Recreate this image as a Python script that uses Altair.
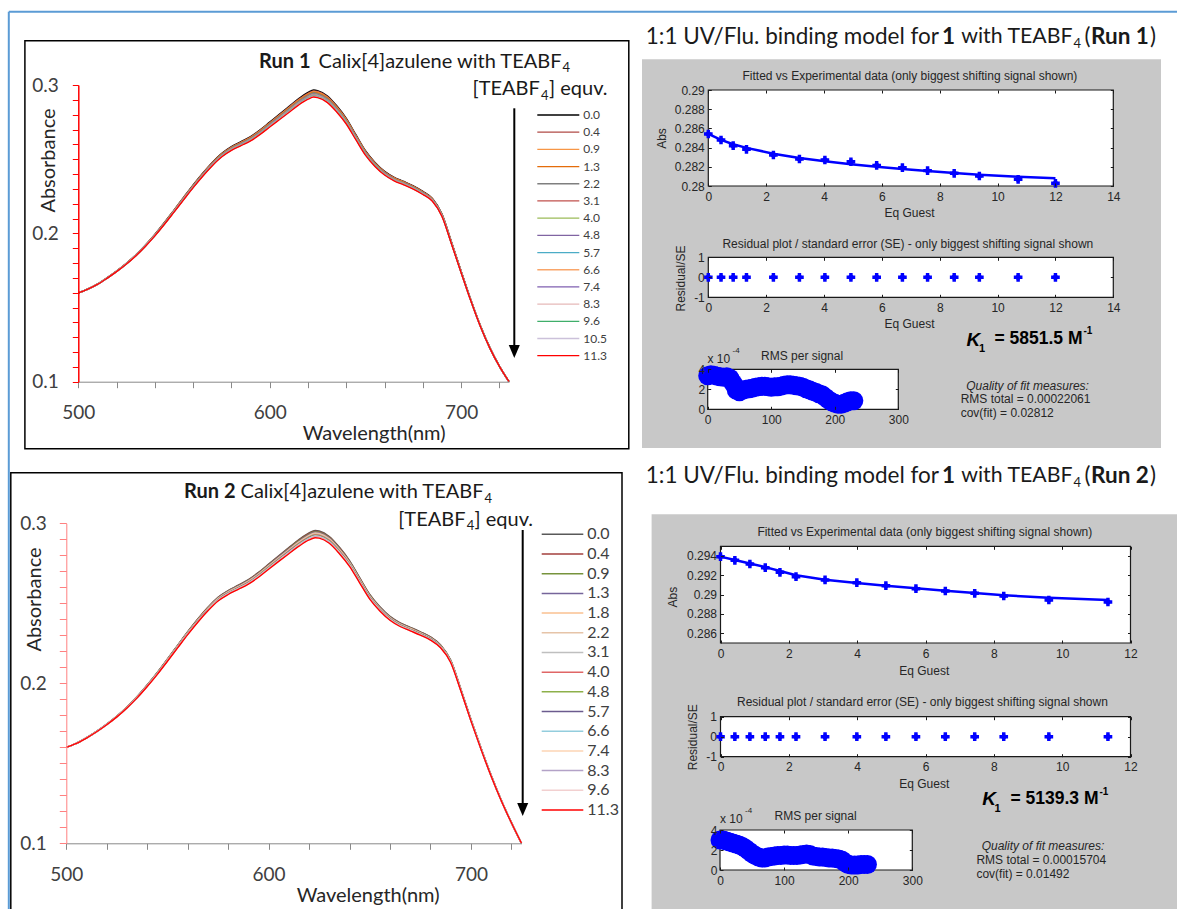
import altair as alt
import pandas as pd

W, H = 1177, 909
XL = "Lato"
ML = "Liberation Sans"
BLUE = "#0000ff"
MTXT = "#262626"

# ---------------- spectra ----------------
wl = [500, 505, 510, 515, 520, 525, 530, 535, 540, 545, 550, 555, 560, 565, 570, 575,
      580, 585, 590, 595, 600, 605, 610, 615, 620, 623, 625, 630, 635, 640, 645, 650,
      655, 660, 665, 670, 675, 680, 685, 690, 695, 700, 705, 710, 715, 720, 725]

# Run 1: top curve (0.0 equiv) and band width down to the last curve (11.3 equiv)
r1_top = [0.1598, 0.1625, 0.1658, 0.1700, 0.1746, 0.1797, 0.1854, 0.1920, 0.1993, 0.2073,
          0.2157, 0.2242, 0.2326, 0.2405, 0.2478, 0.2540, 0.2585, 0.2618, 0.2652, 0.2698,
          0.2750, 0.2802, 0.2855, 0.2907, 0.2950, 0.2966, 0.2962, 0.2928, 0.2860, 0.2775,
          0.2665, 0.2557, 0.2478, 0.2418, 0.2378, 0.2350, 0.2320, 0.2283, 0.2235, 0.2130,
          0.1940, 0.1745, 0.1555, 0.1380, 0.1230, 0.1105, 0.1000]
r1_band = [0, 0.0001, 0.0002, 0.0003, 0.0004, 0.0005, 0.0006, 0.0008, 0.0010, 0.0012,
           0.0014, 0.0016, 0.0018, 0.0020, 0.0022, 0.0024, 0.0026, 0.0027, 0.0029, 0.0031,
           0.0033, 0.0036, 0.0040, 0.0043, 0.0046, 0.0047, 0.0047, 0.0045, 0.0042, 0.0038,
           0.0034, 0.0030, 0.0027, 0.0025, 0.0024, 0.0023, 0.0022, 0.0021, 0.0019, 0.0016,
           0.0013, 0.0010, 0.0008, 0.0006, 0.0004, 0.0002, 0]
# Run 2
r2_top = [0.1600, 0.1625, 0.1660, 0.1700, 0.1745, 0.1795, 0.1852, 0.1917, 0.1990, 0.2068,
          0.2152, 0.2237, 0.2322, 0.2402, 0.2475, 0.2538, 0.2580, 0.2613, 0.2648, 0.2693,
          0.2745, 0.2797, 0.2848, 0.2898, 0.2940, 0.2955, 0.2952, 0.2918, 0.2850, 0.2767,
          0.2660, 0.2555, 0.2478, 0.2418, 0.2378, 0.2350, 0.2322, 0.2290, 0.2240, 0.2145,
          0.1965, 0.1775, 0.1595, 0.1425, 0.1270, 0.1130, 0.1000]
r2_band = [0, 0.0001, 0.0002, 0.0003, 0.0004, 0.0005, 0.0006, 0.0008, 0.0010, 0.0012,
           0.0014, 0.0016, 0.0018, 0.0020, 0.0022, 0.0024, 0.0025, 0.0026, 0.0028, 0.0030,
           0.0032, 0.0035, 0.0038, 0.0041, 0.0044, 0.0045, 0.0045, 0.0043, 0.0040, 0.0036,
           0.0032, 0.0029, 0.0026, 0.0024, 0.0023, 0.0022, 0.0021, 0.0020, 0.0018, 0.0015,
           0.0012, 0.0010, 0.0008, 0.0006, 0.0004, 0.0002, 0]

r1_labels = ["0.0", "0.4", "0.9", "1.3", "2.2", "3.1", "4.0", "4.8", "5.7", "6.6",
             "7.4", "8.3", "9.6", "10.5", "11.3"]
r1_colors = ["#000000", "#b04a46", "#f79646", "#e46c0a", "#7f7f7f", "#c0504d", "#9bbb59",
             "#8064a2", "#4bacc6", "#f9a66a", "#7f5fb0", "#e6b9b8", "#3fae6a", "#ccc1da",
             "#ff0000"]
r2_labels = ["0.0", "0.4", "0.9", "1.3", "1.8", "2.2", "3.1", "4.0", "4.8", "5.7",
             "6.6", "7.4", "8.3", "9.6", "11.3"]
r2_colors = ["#595959", "#a33f3c", "#77933c", "#76659a", "#fac090", "#e6c4a8", "#bfbfbf",
             "#e06666", "#8db04a", "#6b5b8e", "#93cddd", "#fcd5b5", "#b3a2c7", "#f2d0d0",
             "#ff0000"]

# ---------------- binding fits ----------------
r1_eq = [0, 0.44, 0.86, 1.32, 2.25, 3.15, 4.03, 4.93, 5.82, 6.71, 7.58, 8.50, 9.37, 10.71, 12.0]
r1_abs = [0.28542, 0.28479, 0.28420, 0.28382, 0.28323, 0.28281, 0.28271, 0.28253, 0.28215,
          0.28191, 0.28160, 0.28132, 0.28104, 0.28069, 0.28028]
r1_fit = [0.28542, 0.28480, 0.28435, 0.28397, 0.28337, 0.28292, 0.28257, 0.28226, 0.28201,
          0.28177, 0.28156, 0.28135, 0.28118, 0.28097, 0.28080]
r1_res = [0] * 15

r2_eq = [0, 0.42, 0.86, 1.31, 1.74, 2.21, 3.06, 3.99, 4.84, 5.72, 6.58, 7.44, 8.29, 9.61, 11.34]
r2_abs = [0.29393, 0.29355, 0.29317, 0.29279, 0.29231, 0.29186, 0.29152, 0.29124, 0.29093,
          0.29062, 0.29038, 0.29014, 0.28986, 0.28945, 0.28924]
r2_fit = [0.29393, 0.29358, 0.29322, 0.29285, 0.29245, 0.29200, 0.29155, 0.29121, 0.29093,
          0.29066, 0.29041, 0.29017, 0.28993, 0.28969, 0.28945]
r2_res = [0] * 15

rms_x = list(range(0, 231, 5))
r1_rms = [3.35, 3.45, 3.4, 3.3, 3.25, 3.2, 3.25, 3.1, 2.6, 1.9, 1.75, 1.9, 2.0, 2.05, 2.1,
          2.2, 2.25, 2.3, 2.3, 2.25, 2.2, 2.25, 2.25, 2.3, 2.4, 2.45, 2.45, 2.4, 2.35, 2.3,
          2.2, 2.05, 1.95, 1.8, 1.7, 1.55, 1.45, 1.2, 0.95, 0.75, 0.6, 0.5, 0.5, 0.6, 0.75,
          0.85, 0.85]
r2_rms = [3.0, 3.0, 2.9, 2.8, 2.7, 2.6, 2.5, 2.35, 2.15, 1.9, 1.65, 1.45, 1.3, 1.2, 1.2,
          1.3, 1.35, 1.4, 1.45, 1.45, 1.5, 1.5, 1.45, 1.45, 1.45, 1.5, 1.55, 1.6, 1.55, 1.4,
          1.35, 1.3, 1.3, 1.25, 1.2, 1.2, 1.15, 1.1, 1.0, 0.75, 0.55, 0.5, 0.5, 0.5, 0.55,
          0.55, 0.55]

layers = []


# ---------------- helpers ----------------
def txt(s, x, y, size, font=XL, weight="normal", style="normal", align="left",
        color="#000000"):
    return alt.Chart(pd.DataFrame({"t": [s]})).mark_text(
        font=font, fontSize=size, fontWeight=weight, fontStyle=style, align=align,
        baseline="middle", color=color).encode(x=alt.value(x), y=alt.value(y), text="t:N")


def rect(x1, y1, x2, y2, fill="transparent", stroke=None, sw=1.0):
    kw = {"fill": fill}
    if stroke:
        kw["stroke"] = stroke
        kw["strokeWidth"] = sw
    return alt.Chart(pd.DataFrame({"a": [0]})).mark_rect(**kw).encode(
        x=alt.value(x1), x2=alt.value(x2), y=alt.value(y1), y2=alt.value(y2))


def hrule(x1, x2, y, color, sw):
    return alt.Chart(pd.DataFrame({"a": [0]})).mark_rule(color=color, strokeWidth=sw).encode(
        x=alt.value(x1), x2=alt.value(x2), y=alt.value(y))


def vrule(x, y1, y2, color, sw):
    return alt.Chart(pd.DataFrame({"a": [0]})).mark_rule(color=color, strokeWidth=sw).encode(
        x=alt.value(x), y=alt.value(y1), y2=alt.value(y2))


def arrow_head(x, y, size):
    return alt.Chart(pd.DataFrame({"a": [0]})).mark_point(
        shape="M-0.85,-1L0.85,-1L0,1Z", filled=True, size=size, color="#000000",
        opacity=1).encode(x=alt.value(x), y=alt.value(y))


def sc(dom, rng):
    return alt.Scale(domain=dom, range=rng, nice=False, zero=False)


def spectrum_panel(top, band, labels, colors, abs_pts, xr, yr, ycol, ylw, ytick, ypad,
                   xpad, xt_pos, yt_pos, leg_x, leg_y, leg_font, leg_sw):
    a0, an = abs_pts[0], abs_pts[-1]
    rows = []
    for k, lab in enumerate(labels):
        f = (a0 - abs_pts[k]) / (a0 - an)
        for w, t, b in zip(wl, top, band):
            rows.append({"wl": w, "A": t - f * b, "s": lab})
    df = pd.DataFrame(rows)
    cscale = alt.Scale(domain=labels, range=colors)
    xaxis = alt.Axis(
        orient="bottom", offset=yr[0] - H, values=list(range(500, 721, 20)),
        labelExpr="datum.value % 100 == 0 ? datum.label : ''", grid=False,
        domainColor="#898989", tickColor="#898989", tickSize=6, labelFont=XL,
        labelFontSize=19, labelColor="#404040", labelPadding=xpad, labelFlush=False,
        labelOverlap=False, title="Wavelength(nm)", titleX=xt_pos[0],
        titleY=xt_pos[1] - yr[0], titleFont=XL, titleFontSize=20,
        titleFontWeight="normal", titleColor="#262626", titleBaseline="middle",
        titleAlign="center", zindex=1)
    yaxis = alt.Axis(
        orient="left", offset=-xr[0], values=[round(0.1 + 0.01 * i, 2) for i in range(21)],
        labelExpr="abs(datum.value*10 - round(datum.value*10)) < 0.01 ? format(datum.value, '.1f') : ''",
        grid=False, domainColor=ycol, domainWidth=ylw, tickColor=ycol, tickSize=ytick,
        labelFont=XL, labelFontSize=19, labelColor="#404040", labelPadding=ypad,
        labelOverlap=False, title="Absorbance", titleX=yt_pos[0] - xr[0],
        titleY=yt_pos[1], titleFont=XL, titleFontSize=20, titleFontWeight="normal",
        titleColor="#262626", titleBaseline="middle", titleAlign="center", zindex=1)
    out = [alt.Chart(df).mark_line(strokeWidth=1.4, interpolate="monotone").encode(
        x=alt.X("wl:Q", scale=sc([500, 725], xr), axis=xaxis),
        y=alt.Y("A:Q", scale=sc([0.1, 0.3], yr), axis=yaxis),
        color=alt.Color("s:N", scale=cscale, legend=None))]
    leg = pd.DataFrame({"s": labels})
    ly = alt.Y("s:N", scale=alt.Scale(type="point", domain=labels, range=leg_y, padding=0),
               axis=None)
    out.append(alt.Chart(leg).mark_rule(strokeWidth=leg_sw).encode(
        x=alt.value(leg_x[0]), x2=alt.value(leg_x[1]), y=ly,
        color=alt.Color("s:N", scale=cscale, legend=None)))
    out.append(alt.Chart(leg).mark_text(align="left", baseline="middle", font=XL,
                                        fontSize=leg_font, color="#404040").encode(
        x=alt.value(leg_x[2]), y=ly, text="s:N"))
    return out


def matlab_plot(xr, yr, xdom, ydom, xticks, yticks, ylab_expr, xtitle=None, ytitle=None,
                xpad=5, ypad=4):
    out = [rect(xr[0], yr[1], xr[1], yr[0], fill="white", stroke="#1a1a1a", sw=1.2)]
    dummy = pd.DataFrame({"x": [xdom[0]], "y": [ydom[0]]})
    xs, ys = sc(xdom, xr), sc(ydom, yr)
    xkw = dict(orient="bottom", offset=yr[0] - H, values=xticks, ticks=False, domain=False,
               grid=False, labelFont=ML, labelFontSize=12, labelColor=MTXT,
               labelPadding=xpad, labelFlush=False, labelOverlap=False, zindex=1)
    if xtitle:
        xkw.update(title=xtitle[0], titleX=xtitle[1], titleY=xtitle[2] - yr[0], titleFont=ML,
                   titleFontSize=12, titleFontWeight="normal", titleColor=MTXT,
                   titleBaseline="middle", titleAlign="center")
    else:
        xkw["title"] = None
    ykw = dict(orient="left", offset=-xr[0], values=yticks, ticks=False, domain=False,
               grid=False, labelFont=ML, labelFontSize=12, labelColor=MTXT,
               labelPadding=ypad, labelOverlap=False, labelExpr=ylab_expr, zindex=1)
    if ytitle:
        ykw.update(title=ytitle[0], titleX=ytitle[1] - xr[0], titleY=ytitle[2], titleFont=ML,
                   titleFontSize=12, titleFontWeight="normal", titleColor=MTXT,
                   titleBaseline="middle", titleAlign="center")
    else:
        ykw["title"] = None
    out.append(alt.Chart(dummy).mark_point(opacity=0).encode(
        x=alt.X("x:Q", scale=xs, axis=alt.Axis(**xkw)),
        y=alt.Y("y:Q", scale=ys, axis=alt.Axis(**ykw))))
    tk = dict(labels=False, domain=False, ticks=True, tickSize=3, tickColor="#1a1a1a",
              tickWidth=1, grid=False, title=None, zindex=1)
    out.append(alt.Chart(dummy).mark_point(opacity=0).encode(
        x=alt.X("x:Q", scale=xs, axis=alt.Axis(orient="top", offset=-yr[0], values=xticks, **tk)),
        y=alt.Y("y:Q", scale=ys, axis=alt.Axis(orient="right", offset=xr[0] - W, values=yticks, **tk))))
    out.append(alt.Chart(dummy).mark_point(opacity=0).encode(
        x=alt.X("x:Q", scale=xs, axis=alt.Axis(orient="bottom", offset=yr[1] - H, values=xticks, **tk)),
        y=alt.Y("y:Q", scale=ys, axis=alt.Axis(orient="left", offset=-xr[1], values=yticks, **tk))))
    return out, xs, ys


def star_points(df, xf, yf, xs, ys):
    enc = dict(x=alt.X(f"{xf}:Q", scale=xs, axis=None), y=alt.Y(f"{yf}:Q", scale=ys, axis=None))
    return [alt.Chart(df).mark_point(shape="diamond", filled=True, size=55, color=BLUE,
                                     opacity=1).encode(**enc),
            alt.Chart(df).mark_point(shape="cross", filled=True, size=75, color=BLUE,
                                     opacity=1).encode(**enc)]


def fit_panel(eq, ab, fit, res, rms, P, txts):
    df = pd.DataFrame({"eq": eq, "abs": ab, "fit": fit, "res": res})
    out = []
    # fitted vs experimental
    o, xs, ys = matlab_plot(P["fx"], P["fy"], [0, P["xmax"]], P["ydom"],
                            list(range(0, P["xmax"] + 1, 2)), P["yticks"],
                            "format(datum.value, '.3~f')",
                            xtitle=("Eq Guest",) + P["fxt"], ytitle=("Abs",) + P["fyt"])
    out += o
    out.append(alt.Chart(df).mark_line(color=BLUE, strokeWidth=2.5).encode(
        x=alt.X("eq:Q", scale=xs, axis=None), y=alt.Y("fit:Q", scale=ys, axis=None)))
    out += star_points(df, "eq", "abs", xs, ys)
    # residual
    o, xs, ys = matlab_plot(P["fx"], P["ry"], [0, P["xmax"]], [-1, 1],
                            list(range(0, P["xmax"] + 1, 2)), [-1, 0, 1],
                            "datum.value < 0 ? '-' + format(-datum.value, 'd') : format(datum.value, 'd')",
                            xtitle=("Eq Guest",) + P["rxt"], ytitle=("Residual/SE",) + P["ryt"])
    out += o
    out += star_points(df, "eq", "res", xs, ys)
    # RMS per signal
    o, xs, ys = matlab_plot(P["mx"], P["my"], [0, 300], [0, 4], [0, 100, 200, 300], [0, 2, 4],
                            "format(datum.value, 'd')", ypad=3)
    out += o
    rdf = pd.DataFrame({"n": rms_x, "r": rms})
    out.append(alt.Chart(rdf).mark_circle(size=360, color=BLUE, opacity=1).encode(
        x=alt.X("n:Q", scale=xs, axis=None), y=alt.Y("r:Q", scale=ys, axis=None)))
    for t in txts:
        out.append(txt(*t[:4], **t[4]))
    return out


# ---------------- decorations ----------------
layers.append(hrule(8.8, W, 11.7, "#5b9bd5", 2))
layers.append(vrule(8.8, 11.7, H, "#5b9bd5", 2))
layers.append(rect(24.9, 40.7, 628.8, 448.7, stroke="#000000", sw=1.5))
layers.append(rect(10.8, 472.7, 622, 920, stroke="#000000", sw=1.5))
layers.append(rect(642, 59.3, 1161, 448, fill="#c8c8c8"))
layers.append(rect(651.6, 514.3, 1180, 912, fill="#c8c8c8"))

# ---------------- left panels ----------------
layers += spectrum_panel(r1_top, r1_band, r1_labels, r1_colors, r1_abs,
                         xr=[78.3, 509.0], yr=[381.7, 85.0], ycol="#ff0000", ylw=1.5,
                         ytick=6, ypad=14, xpad=16, xt_pos=(373.6, 433), yt_pos=(48.2, 160),
                         leg_x=[537.3, 579.3, 583.3], leg_y=[115, 355.7], leg_font=12,
                         leg_sw=1.3)
layers += spectrum_panel(r2_top, r2_band, r2_labels, r2_colors, r2_abs,
                         xr=[66.3, 521.5], yr=[843.3, 523.3], ycol="#ff8080", ylw=1,
                         ytick=7, ypad=13, xpad=16, xt_pos=(367.6, 895), yt_pos=(34.1, 599),
                         leg_x=[541.7, 583.3, 587.3], leg_y=[534.3, 810], leg_font=16,
                         leg_sw=1.5)

for s, x, y, sz, w, al in [("Run 1", 259, 61.7, 20, "bold", "left"),
                           ("Calix[4]azulene with TEABF", 561.5, 61.7, 20, "normal", "right"),
                           ("4", 562.5, 68, 13, "normal", "left"),
                           ("[TEABF", 539.8, 89.3, 20, "normal", "right"),
                           ("4", 541, 95.5, 13, "normal", "left"),
                           ("] equv.", 549, 89.3, 20, "normal", "left"),
                           ("Run 2", 184, 492.3, 20, "bold", "left"),
                           ("Calix[4]azulene with TEABF", 483.5, 492.3, 20, "normal", "right"),
                           ("4", 484.5, 498.5, 13, "normal", "left"),
                           ("[TEABF", 465.5, 520, 20, "normal", "right"),
                           ("4", 466.7, 526, 13, "normal", "left"),
                           ("] equv.", 474.5, 520, 20, "normal", "left")]:
    layers.append(txt(s, x, y, sz, weight=w, align=al, color="#1a1a1a"))

layers.append(vrule(514.3, 108.3, 347, "#000000", 2))
layers.append(arrow_head(514.3, 351.6, 169))
layers.append(vrule(522.7, 530, 805, "#000000", 2))
layers.append(arrow_head(522.7, 809.5, 169))

# ---------------- right panels ----------------
for yb, run in [(36.7, "Run 1"), (476, "Run 2")]:
    layers.append(txt("1:1 UV/Flu. binding model for", 645.7, yb, 22.5, color="#1a1a1a"))
    layers.append(txt("1", 942, yb, 22.5, weight="bold", color="#1a1a1a"))
    layers.append(txt("with TEABF", 1072.5, yb, 21.3, align="right", color="#1a1a1a"))
    layers.append(txt("4", 1073.5, yb + 7, 13, color="#1a1a1a"))
    layers.append(txt("(", 1084.5, yb, 22.5, color="#1a1a1a"))
    layers.append(txt(run, 1091, yb, 22.5, weight="bold", color="#1a1a1a"))
    layers.append(txt(")", 1150, yb, 22.5, color="#1a1a1a"))

P1 = dict(fx=[708.3, 1113.3], fy=[186, 90], xmax=14, ydom=[0.28, 0.29],
          yticks=[0.28, 0.282, 0.284, 0.286, 0.288, 0.29],
          fxt=(909, 212), fyt=(661.4, 138), ry=[297.3, 257.3], rxt=(909, 323.3),
          ryt=(680.6, 278), mx=[707.7, 898.3], my=[409.3, 369.3])
T1 = [("Fitted vs Experimental data (only biggest shifting signal shown)", 909.9, 76, 12,
       dict(font=ML, align="center", color=MTXT)),
      ("Residual plot / standard error (SE) - only biggest shifting signal shown", 907.8, 244.3,
       12, dict(font=ML, align="center", color=MTXT)),
      ("RMS per signal", 802.1, 356, 12, dict(font=ML, align="center", color=MTXT)),
      ("x 10", 707.4, 359.3, 12, dict(font=ML, color=MTXT)),
      ("-4", 732.5, 350.5, 8, dict(font=ML, color=MTXT)),
      ("K", 966.6, 340, 19, dict(font=ML, weight="bold", style="italic", color="#000000")),
      ("1", 979, 349, 11, dict(font=ML, weight="bold", color="#000000")),
      ("= 5851.5 M", 1082.5, 339.3, 17.5, dict(font=ML, weight="bold", align="right",
                                               color="#000000")),
      ("-1", 1083.5, 331, 10, dict(font=ML, weight="bold", color="#000000")),
      ("Quality of fit measures:", 1027.6, 386, 12, dict(font=ML, style="italic",
                                                          align="center", color=MTXT)),
      ("RMS total = 0.00022061", 960.7, 399.3, 12, dict(font=ML, color=MTXT)),
      ("cov(fit) = 0.02812", 960.7, 413.3, 12, dict(font=ML, color=MTXT))]
layers += fit_panel(r1_eq, r1_abs, r1_fit, r1_res, r1_rms, P1, T1)

P2 = dict(fx=[720.5, 1130.5], fy=[643, 546.3], xmax=12, ydom=[0.285, 0.295],
          yticks=[0.286, 0.288, 0.29, 0.292, 0.294],
          fxt=(923.7, 670), fyt=(672.5, 596.7), ry=[756.7, 716.7], rxt=(923.7, 783.3),
          ryt=(692.8, 736.7), mx=[720, 912.3], my=[870, 830])
T2 = [("Fitted vs Experimental data (only biggest shifting signal shown)", 924.8, 531.7, 12,
       dict(font=ML, align="center", color=MTXT)),
      ("Residual plot / standard error (SE) - only biggest shifting signal shown", 922.4, 702.3,
       12, dict(font=ML, align="center", color=MTXT)),
      ("RMS per signal", 815.6, 816, 12, dict(font=ML, align="center", color=MTXT)),
      ("x 10", 720, 819.3, 12, dict(font=ML, color=MTXT)),
      ("-4", 745, 810.5, 8, dict(font=ML, color=MTXT)),
      ("K", 982.3, 799.3, 19, dict(font=ML, weight="bold", style="italic", color="#000000")),
      ("1", 994.5, 809, 11, dict(font=ML, weight="bold", color="#000000")),
      ("= 5139.3 M", 1098.5, 799.3, 17.5, dict(font=ML, weight="bold", align="right",
                                               color="#000000")),
      ("-1", 1099.5, 791.7, 10, dict(font=ML, weight="bold", color="#000000")),
      ("Quality of fit measures:", 1043, 846, 12, dict(font=ML, style="italic",
                                                       align="center", color=MTXT)),
      ("RMS total = 0.00015704", 976.4, 860, 12, dict(font=ML, color=MTXT)),
      ("cov(fit) = 0.01492", 976.4, 874, 12, dict(font=ML, color=MTXT))]
layers += fit_panel(r2_eq, r2_abs, r2_fit, r2_res, r2_rms, P2, T2)

chart = alt.layer(*layers).properties(
    width=W, height=H, padding=0, background="white",
    autosize=alt.AutoSizeParams(type="none"),
).resolve_scale(x="independent", y="independent", color="independent").resolve_axis(
    x="independent", y="independent").configure_view(strokeWidth=0)

chart.save("out.html", embed_options={"renderer": "svg", "actions": False})
